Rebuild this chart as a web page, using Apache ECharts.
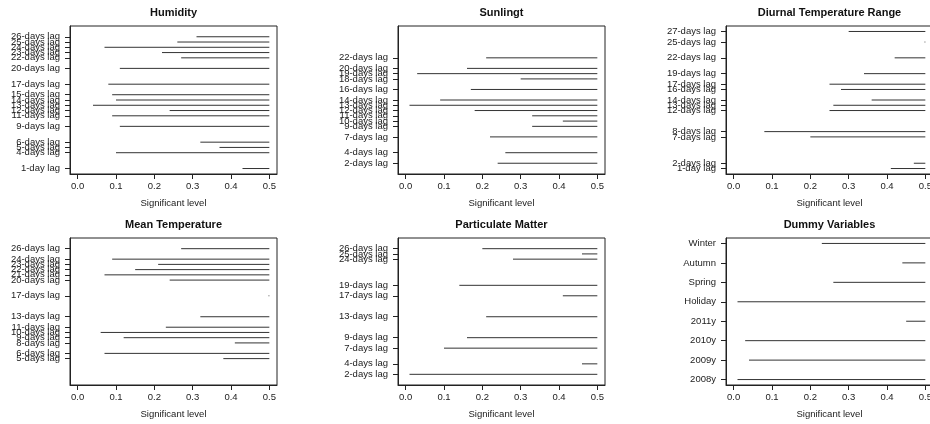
<!DOCTYPE html>
<html>
<head>
<meta charset="utf-8">
<script src="https://cdn.jsdelivr.net/npm/echarts@6/dist/echarts.min.js"></script>
<style>
html,body{margin:0;padding:0;background:#fff;}
#chart{width:930px;height:424px;}
</style>
</head>
<body>
<div id="chart"></div>
<script>
// ---- data ----
const upperLevel = 0.5;
const xTicks = [0, 0.1, 0.2, 0.3, 0.4, 0.5];

const humidityLags  = [26, 25, 24, 23, 22, 20, 17, 15, 14, 13, 12, 11, 9, 6, 5, 4, 1];
const humidityStart = [0.31, 0.26, 0.07, 0.22, 0.27, 0.11, 0.08, 0.09, 0.10, 0.04, 0.24, 0.09, 0.11, 0.32, 0.37, 0.10, 0.43];

const sunlightLags  = [22, 20, 19, 18, 16, 14, 13, 12, 11, 10, 9, 7, 4, 2];
const sunlightStart = [0.21, 0.16, 0.03, 0.30, 0.17, 0.09, 0.01, 0.18, 0.33, 0.41, 0.33, 0.22, 0.26, 0.24];

const dtrLags  = [27, 25, 22, 19, 17, 16, 14, 13, 12, 8, 7, 2, 1];
const dtrStart = [0.30, 0.498, 0.42, 0.34, 0.25, 0.28, 0.36, 0.26, 0.25, 0.08, 0.20, 0.47, 0.41];

const meanTempLags  = [26, 24, 23, 22, 21, 20, 17, 13, 11, 10, 9, 8, 6, 5];
const meanTempStart = [0.27, 0.09, 0.21, 0.15, 0.07, 0.24, 0.498, 0.32, 0.23, 0.06, 0.12, 0.41, 0.07, 0.38];

const pmLags  = [26, 25, 24, 19, 17, 13, 9, 7, 4, 2];
const pmStart = [0.20, 0.46, 0.28, 0.14, 0.41, 0.21, 0.16, 0.10, 0.46, 0.01];

const dummyCategories = ['2008y', '2009y', '2010y', '2011y', 'Holiday', 'Spring', 'Autumn', 'Winter'];
const dummyStart      = [0.01, 0.04, 0.03, 0.45, 0.01, 0.26, 0.44, 0.23];

const titles = ['Humidity', 'Sunlingt', 'Diurnal Temperature Range', 'Mean Temperature', 'Particulate Matter', 'Dummy Variables'];

// ---- layout ----
const colLeft = [70, 398, 726];
const gridWidth = 207;
const rowTop = [26, 238];
const rowHeight = [148, 147];
const FONT = '"Liberation Sans", Arial, Helvetica, sans-serif';
const ink = '#222';

function lagLabel(v) { return v === 1 ? '1-day lag' : v + '-days lag'; }

const panels = [
  {lags: humidityLags, start: humidityStart},
  {lags: sunlightLags, start: sunlightStart},
  {lags: dtrLags, start: dtrStart},
  {lags: meanTempLags, start: meanTempStart},
  {lags: pmLags, start: pmStart},
  {lags: dummyCategories.map((c, i) => i + 1), start: dummyStart, cats: dummyCategories}
];

const grid = [], xAxis = [], yAxis = [], series = [], graphic = [];
panels.forEach((p, i) => {
  const r = Math.floor(i / 3), c = i % 3;
  grid.push({
    left: colLeft[c], top: rowTop[r], width: gridWidth, height: rowHeight[r],
    outerBoundsMode: 'none', containLabel: false,
    show: true, borderColor: ink, borderWidth: 1, backgroundColor: 'transparent'
  });
  xAxis.push({
    type: 'value', gridIndex: i, min: -0.02, max: 0.52, position: 'bottom',
    splitLine: {show: false}, axisLine: {show: true, onZero: false, lineStyle: {color: ink}},
    axisTick: {show: true, inside: false, length: 5, customValues: xTicks, lineStyle: {color: ink}},
    axisLabel: {customValues: xTicks, formatter: v => v.toFixed(1), fontFamily: FONT, fontSize: 9.5, color: ink, margin: 7,
                showMinLabel: true, showMaxLabel: true},
    name: 'Significant level', nameLocation: 'middle', nameGap: 24,
    nameTextStyle: {fontFamily: FONT, fontSize: 9.5, color: ink}
  });
  const yMin = p.cats ? 0.72 : -0.04;
  const yMax = p.cats ? 8.28 : 28.04;
  // two overlaid y axes, alternating tick labels, so tightly packed labels are all kept
  [0, 1].forEach(part => {
    const vals = p.lags.filter((v, k) => k % 2 === part);
    yAxis.push({
      type: 'value', gridIndex: i, min: yMin, max: yMax, position: 'left', offset: 0,
      splitLine: {show: false}, axisLine: {show: part === 0, onZero: false, lineStyle: {color: ink}},
      axisTick: {show: true, inside: false, length: 5, customValues: vals, lineStyle: {color: ink}},
      axisLabel: {
        customValues: vals,
        formatter: v => p.cats ? p.cats[Math.round(v) - 1] : lagLabel(Math.round(v)),
        fontFamily: FONT, fontSize: 9.5, color: ink, margin: 10, lineHeight: 4,
        showMinLabel: true, showMaxLabel: true, hideOverlap: false
      }
    });
  });
  series.push({
    type: 'custom', xAxisIndex: i, yAxisIndex: 2 * i,
    data: p.lags.map((lag, k) => [p.start[k], lag, upperLevel]),
    renderItem: (params, api) => {
      const a = api.coord([api.value(0), api.value(1)]);
      const b = api.coord([api.value(2), api.value(1)]);
      return {type: 'line', shape: {x1: a[0], y1: a[1], x2: b[0], y2: b[1]},
              style: {stroke: '#333', lineWidth: 1}};
    },
    clip: false, silent: true, animation: false
  });
  graphic.push({
    type: 'text', x: colLeft[c] + gridWidth / 2, y: rowTop[r] - 13,
    style: {text: titles[i], fontFamily: FONT, fontSize: 11, fontWeight: 'bold',
            fill: '#111', align: 'center', verticalAlign: 'middle'}
  });
});

const chart = echarts.init(document.getElementById('chart'), null, {renderer: 'canvas'});
chart.setOption({animation: false, backgroundColor: '#fff', grid, xAxis, yAxis, series, graphic});
</script>
</body>
</html>
